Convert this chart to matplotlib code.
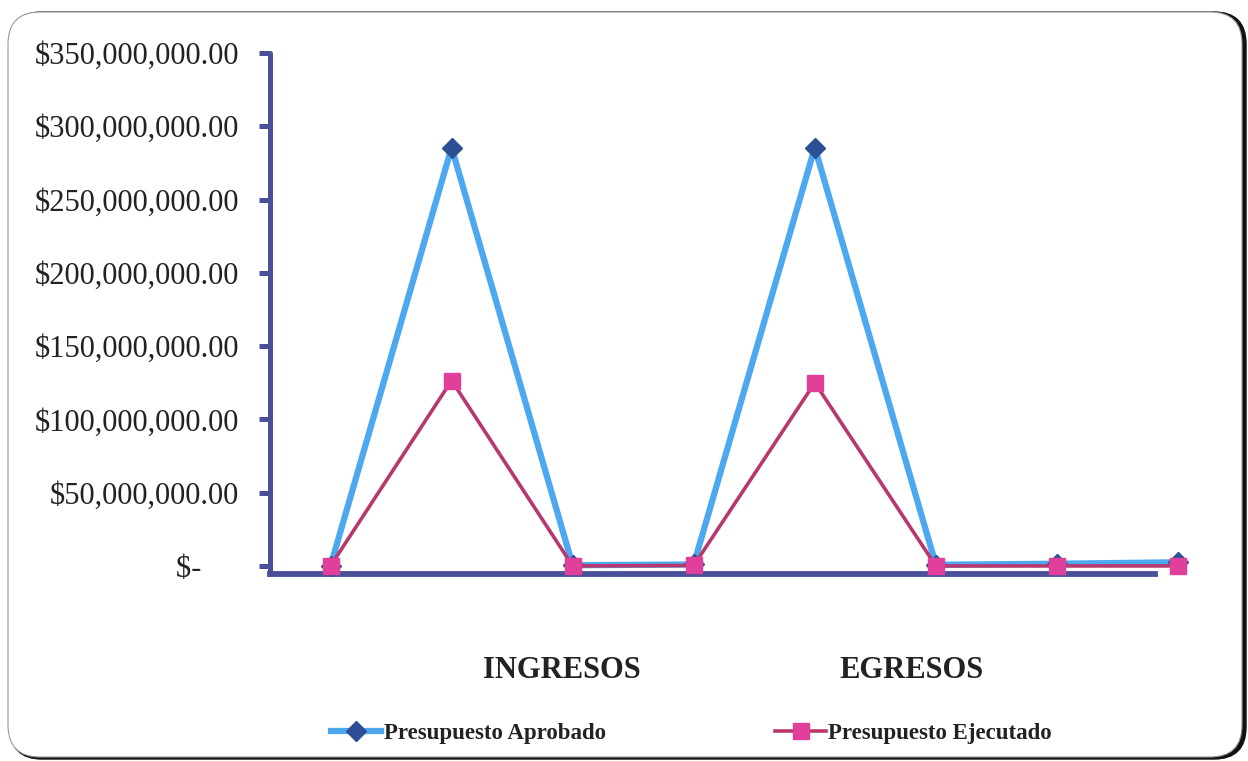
import numpy as np
import matplotlib.pyplot as plt
from matplotlib.patches import FancyBboxPatch
from matplotlib.lines import Line2D
from matplotlib.ticker import FuncFormatter

# datos
puntos = [0, 1, 2, 3, 4, 5, 6, 7]
aprobado = [0.0, 285.5e6, 0.5e6, 1.0e6, 285.5e6, 0.8e6, 1.5e6, 2.5e6]
ejecutado = [0.0, 126.5e6, 0.0, 0.3e6, 125.0e6, 0.0, 0.0, 0.0]
categorias = ["INGRESOS", "EGRESOS"]
pos_categorias = [1.91, 4.80]
yticks = [0, 50e6, 100e6, 150e6, 200e6, 250e6, 300e6, 350e6]

plt.rcParams['font.family'] = ['Liberation Serif', 'DejaVu Serif']

fig = plt.figure(figsize=(12.48, 7.61), dpi=100)
fig.patch.set_facecolor('white')

# marco redondeado con sombra oscura a la derecha/abajo
sombra = FancyBboxPatch((0.10, 0.02), 12.36, 7.47, boxstyle="round,pad=0,rounding_size=0.32",
                        transform=fig.dpi_scale_trans, facecolor='#111111', edgecolor='#111111',
                        lw=1, zorder=-3)
marco = FancyBboxPatch((0.08, 0.04), 12.34, 7.45, boxstyle="round,pad=0,rounding_size=0.32",
                       transform=fig.dpi_scale_trans, facecolor='white', edgecolor='#9a9a9a',
                       lw=0.8, zorder=-2)
fig.patches.extend([sombra, marco])

ax = fig.add_axes([270/1248, 1-574/761, (1155-270)/1248, (574-53)/761])
ax.set_facecolor('none')
ax.set_zorder(1)

azul = '#4ea8f0'
rosa = '#b8386e'
eje = '#4a5098'

ax.plot(puntos, aprobado, color=azul, lw=4.5, marker='D', ms=10,
        mfc='#2d4f96', mec='#2d4f96', clip_on=False, zorder=3)
ax.plot(puntos, ejecutado, color=rosa, lw=2.6, marker='s', ms=11,
        mfc='#e0409a', mec='#e0409a', clip_on=False, zorder=4)

ax.set_xlim(-0.5, 6.81)
ax.set_ylim(-5.5e6, 350e6)

for s in ['top', 'right']:
    ax.spines[s].set_visible(False)
ax.spines['left'].set_color(eje)
ax.spines['left'].set_linewidth(3.6)
ax.spines['left'].set_capstyle('round')
ax.spines['bottom'].set_color(eje)
ax.spines['bottom'].set_linewidth(4.2)

ax.set_yticks(yticks)
ax.yaxis.set_major_formatter(FuncFormatter(
    lambda v, p: "$-     " if v == 0 else "${:,.2f}".format(v)))
ax.tick_params(axis='y', length=8, width=3.6, color=eje, pad=14,
               labelsize=22, labelcolor='#222222')

ax.set_xticks(pos_categorias)
ax.set_xticklabels(categorias, fontsize=22, fontweight='bold', color='#222222')
ax.tick_params(axis='x', length=0, pad=59)

handles = [Line2D([], [], color=azul, lw=4.5, marker='D', ms=10, mfc='#2d4f96', mec='#2d4f96'),
           Line2D([], [], color=rosa, lw=2.6, marker='s', ms=11, mfc='#e0409a', mec='#e0409a')]
fig.legend(handles, ["Presupuesto Aprobado", "Presupuesto Ejecutado"],
           loc='center', bbox_to_anchor=(0.554, 1-733/761), ncol=2, frameon=False,
           prop={'size': 16.5, 'weight': 'bold'}, handlelength=2.2, handletextpad=0.1,
           columnspacing=7.4, labelcolor='#222222')

fig.savefig('out.png', dpi=100, facecolor='white')
